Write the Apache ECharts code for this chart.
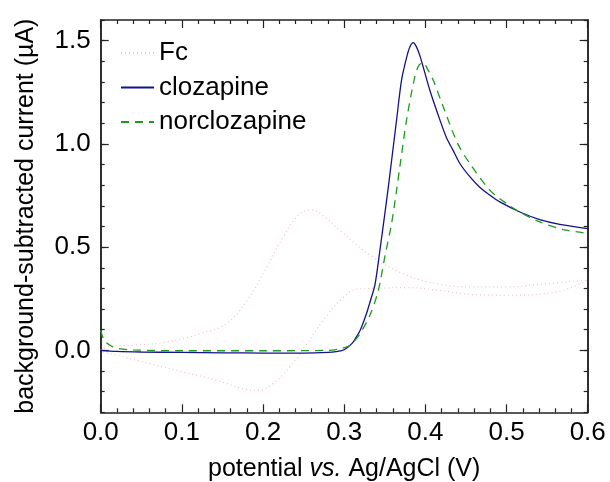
<!DOCTYPE html>
<html>
<head>
<meta charset="utf-8">
<script src="https://cdn.jsdelivr.net/npm/echarts@6/dist/echarts.min.js"></script>
<style>html,body{margin:0;padding:0;background:#fff}#c{width:610px;height:482px}</style>
</head>
<body>
<div id="c"></div>
<script>
// potential (V) and current (µA)
var fcV = [0, 0.0115, 0.04, 0.081, 0.122, 0.155, 0.18, 0.204, 0.225, 0.245, 0.26, 0.275, 0.2947, 0.3357, 0.377, 0.418, 0.459, 0.5, 0.541, 0.6,
           0.5616, 0.5, 0.459, 0.418, 0.377, 0.3357, 0.315, 0.2947, 0.274, 0.2537, 0.233, 0.2126, 0.192, 0.1756, 0.143, 0.1017, 0.0607, 0.0197, 0];
var fcI = [0, 0.02, 0.025, 0.04, 0.08, 0.13, 0.24, 0.40, 0.55, 0.66, 0.68, 0.65, 0.58, 0.45, 0.364, 0.32, 0.307, 0.307, 0.32, 0.34,
           0.283, 0.267, 0.27, 0.29, 0.304, 0.30, 0.296, 0.24, 0.145, 0.03, -0.08, -0.16, -0.194, -0.186, -0.145, -0.105, -0.065, -0.024, -0.008];

var cloV = [0, 0.02, 0.05, 0.1, 0.15, 0.2, 0.25, 0.28, 0.29, 0.30, 0.31, 0.315, 0.32, 0.3276, 0.333, 0.338, 0.344, 0.35, 0.354, 0.3645, 0.3707, 0.377, 0.381, 0.385, 0.389, 0.393, 0.3973, 0.4055, 0.418, 0.426, 0.434, 0.4425, 0.455, 0.467, 0.48, 0.4917, 0.5164, 0.541, 0.5656, 0.6];
var cloI = [0, -0.005, -0.008, -0.01, -0.012, -0.013, -0.013, -0.01, -0.006, 0.003, 0.035, 0.065, 0.10, 0.18, 0.25, 0.32, 0.485, 0.66, 0.78, 1.115, 1.31, 1.42, 1.47, 1.49, 1.47, 1.43, 1.373, 1.26, 1.115, 1.03, 0.97, 0.905, 0.84, 0.79, 0.75, 0.719, 0.67, 0.633, 0.61, 0.59];

var norV = [0, 0.003, 0.006, 0.0135, 0.02, 0.04, 0.1, 0.2, 0.28, 0.295, 0.307, 0.3193, 0.3317, 0.342, 0.35, 0.3584, 0.3645, 0.3686, 0.3768, 0.387, 0.392, 0.3973, 0.403, 0.4096, 0.422, 0.44, 0.4548, 0.4794, 0.5, 0.5164, 0.541, 0.5697, 0.6];
var norI = [0.097, 0.06, 0.04, 0.02, 0.01, 0.002, -0.002, -0.002, 0, 0.008, 0.024, 0.08, 0.17, 0.29, 0.452, 0.615, 0.776, 0.89, 1.115, 1.325, 1.38, 1.393, 1.36, 1.309, 1.18, 1.0, 0.905, 0.776, 0.711, 0.67, 0.622, 0.585, 0.567];

var majorY = [0, 0.5, 1.0, 1.5];
var seriesNames = ['Fc', 'clozapine', 'norclozapine'];

function zip(a, b) { return a.map(function (v, i) { return [v, b[i]]; }); }

var FONT = "'Liberation Sans', Arial, sans-serif";
var AX = '#222';
var FS = 26, TS = 25;

var chart = echarts.init(document.getElementById('c'));
function yAx(pos, major, labels) {
  return {
    type: 'value', position: pos, min: -0.3, max: 1.6, interval: 0.1,
    axisLine: { show: true, onZero: false, lineStyle: { color: AX, width: 1.5 } },
    splitLine: { show: false },
    axisTick: major ? { show: true, inside: true, length: 8, customValues: majorY, lineStyle: { color: AX, width: 1.2 } }
                    : { show: true, inside: true, length: 4, lineStyle: { color: AX, width: 1.2 } },
    axisLabel: labels ? {
      show: true, margin: 10, fontSize: FS, color: '#000', fontFamily: FONT,
      formatter: function (v) { return (Math.round(v * 10) % 5 === 0) ? v.toFixed(1) : ''; }
    } : { show: false },
    name: labels ? 'background-subtracted current (µA)' : '',
    nameLocation: 'middle', nameGap: 62,
    nameTextStyle: { fontSize: TS, color: '#000', fontFamily: FONT }
  };
}
function xAx(pos, labels) {
  return {
    type: 'value', position: pos, min: 0, max: 0.6, interval: 0.1,
    axisLine: { show: true, onZero: false, lineStyle: { color: AX, width: 1.5 } },
    splitLine: { show: false },
    axisTick: { show: true, inside: true, length: 8, lineStyle: { color: AX, width: 1.2 } },
    minorTick: { show: true, splitNumber: 5, length: 4, lineStyle: { color: AX, width: 1.2 } },
    minorSplitLine: { show: false },
    axisLabel: labels ? { show: true, margin: 8, fontSize: FS, color: '#000', fontFamily: FONT,
      formatter: function (v) { return v.toFixed(1); } } : { show: false },
    name: labels ? '{a|potential }{b|vs.}{a| Ag/AgCl (V)}' : '',
    nameLocation: 'middle', nameGap: 44,
    nameTextStyle: { fontSize: TS, color: '#000', fontFamily: FONT,
      rich: { a: { fontSize: TS, color: '#000', fontFamily: FONT }, b: { fontSize: TS, color: '#000', fontFamily: FONT, fontStyle: 'italic' } } }
  };
}

chart.setOption({
  animation: false,
  backgroundColor: '#fff',
  grid: { left: 100.7, right: 22.3, top: 20, bottom: 69.7, containLabel: false, outerBoundsMode: 'none' },
  legend: {
    left: 120, top: 40, orient: 'vertical', padding: 0, itemGap: 8.5,
    itemWidth: 33, itemHeight: 26,
    itemStyle: { opacity: 0 },
    textStyle: { fontSize: FS, color: '#000', fontFamily: FONT },
    data: seriesNames
  },
  xAxis: [xAx('bottom', true), xAx('top', false)],
  yAxis: [yAx('left', false, true), yAx('left', true, false), yAx('right', false, false), yAx('right', true, false)],
  series: [
    { name: seriesNames[0], type: 'line', data: zip(fcV, fcI), smooth: 0.4, symbol: 'none',
      lineStyle: { color: '#f0c0ca', width: 1.2, type: [1, 3] }, itemStyle: { color: '#f0c0ca' } },
    { name: seriesNames[1], type: 'line', data: zip(cloV, cloI), smooth: 0.3, symbol: 'none',
      lineStyle: { color: '#12128c', width: 1.3 }, itemStyle: { color: '#12128c' } },
    { name: seriesNames[2], type: 'line', data: zip(norV, norI), smooth: 0.3, symbol: 'none',
      lineStyle: { color: '#1f9a1f', width: 1.3, type: [8, 6] }, itemStyle: { color: '#1f9a1f' } }
  ]
});
</script>
</body>
</html>
